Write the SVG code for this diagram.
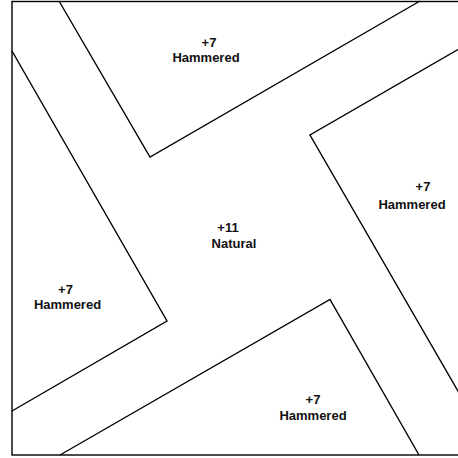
<svg xmlns="http://www.w3.org/2000/svg" width="458" height="458" viewBox="0 0 458 458">
<style>
.ln{fill:none;stroke:#000;stroke-width:1.4;stroke-linejoin:miter}
.t{font-family:"Liberation Sans",Arial,sans-serif;font-weight:bold;font-size:13px;fill:#111;text-anchor:middle}
</style>
<rect x="0" y="0" width="458" height="458" fill="#fff"/>
<g id="frame"><rect class="ln" x="12" y="1.5" width="470" height="453.5"/></g>
<g id="connectors">
<polyline id="top-edge" class="ln" points="59,1 150,157 420,1"/>
<polyline id="left-edge" class="ln" points="12,51 167,321 12,411"/>
<polyline id="bottom-edge" class="ln" points="60,455 330,299.5 419,455"/>
<polyline id="right-edge" class="ln" points="470,42.6 310,135 470,412"/>
</g>
<g id="top"><text class="t" x="209" y="47">+7</text><text class="t" x="206" y="62">Hammered</text></g>
<g id="right"><text class="t" x="423" y="191">+7</text><text class="t" x="412" y="209">Hammered</text></g>
<g id="left"><text class="t" x="65.5" y="294">+7</text><text class="t" x="67.5" y="308.5">Hammered</text></g>
<g id="center"><text class="t" x="228" y="232">+11</text><text class="t" x="234" y="248">Natural</text></g>
<g id="bottom"><text class="t" x="313" y="404">+7</text><text class="t" x="313" y="420">Hammered</text></g>
</svg>
